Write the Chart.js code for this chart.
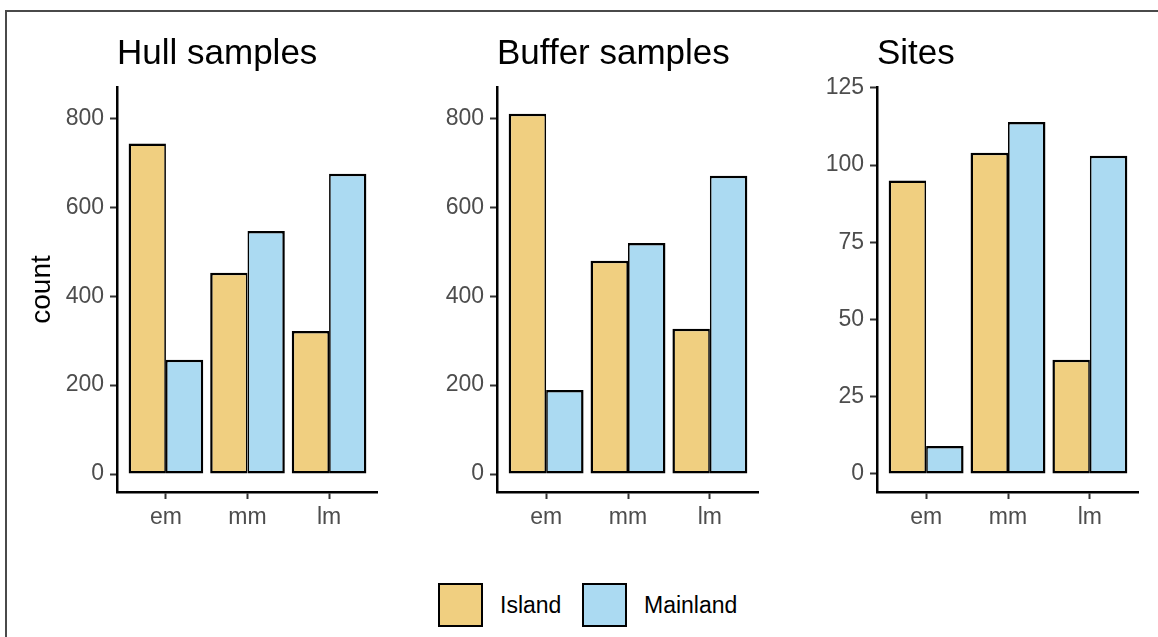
<!DOCTYPE html>
<html>
<head>
<meta charset="utf-8">
<script src="https://cdn.jsdelivr.net/npm/chart.js@4"></script>
<style>
body{margin:0;background:#fff;width:1158px;height:637px;overflow:hidden;position:relative;font-family:'Liberation Sans',Arial,sans-serif}
canvas{position:absolute;top:0}
#frame{position:absolute;left:5px;top:10px;width:1200px;height:700px;border-top:2px solid #4a4a4a;border-left:2px solid #4a4a4a}
#legend{position:absolute;top:583px;left:438px;height:44px}
.item{position:absolute;top:0;height:44px}
.box{position:absolute;top:0;left:0;width:41px;height:40px;border:2px solid #000}
.lab{position:absolute;top:0;line-height:44px;font-size:23px;color:#000;white-space:nowrap}
</style>
</head>
<body>
<div id="frame"></div>
<canvas id="hull" width="378" height="552" style="left:0"></canvas>
<canvas id="buffer" width="379" height="552" style="left:380px"></canvas>
<canvas id="sites" width="379" height="552" style="left:760px"></canvas>
<div id="legend"></div>
<script>
const categories=['em','mm','lm']
const seriesNames=['Island','Mainland']
const seriesColors=['#f0cf80','#abdaf2']
const hullIsland=[744,453,322]
const hullMainland=[257,547,676]
const bufferIsland=[811,480,327]
const bufferMainland=[189,520,671]
const sitesIsland=[95,104,37]
const sitesMainland=[9,114,103]
const countTicks=[0,200,400,600,800]
const sitesTicks=[0,25,50,75,100,125]

const font='Liberation Sans'

function toPoints(arr){
    return arr.map((v,i)=>({x:i+1,y:v}))
}

function makePanel(id,title,island,mainland,yMin,yMax,yTicks,showCount){
    const data={
        datasets:[{
            label:seriesNames[0],
            data:toPoints(island),
            backgroundColor:seriesColors[0],
            borderColor:'#000',
            // shared edge between the two bars split in half
            borderWidth:()=>({top:2.5,bottom:2.5,left:2.5,right:1.7}),
            borderSkipped:false,
            categoryPercentage:0.915,
            barPercentage:1
        },{
            label:seriesNames[1],
            data:toPoints(mainland),
            backgroundColor:seriesColors[1],
            borderColor:'#000',
            borderWidth:()=>({top:2.5,bottom:2.5,left:1.7,right:2.5}),
            borderSkipped:false,
            categoryPercentage:0.915,
            barPercentage:1
        }]
    }
    const config={
        type:'bar',
        data:data,
        options:{
            responsive:false,
            animation:false,
            layout:{padding:0},
            plugins:{
                legend:{display:false},
                tooltip:{enabled:false},
                title:{
                    display:true,
                    text:title,
                    align:'start',
                    fullSize:false,
                    color:'#000',
                    font:{family:font,size:35,weight:'normal'},
                    padding:{top:33,bottom:12}
                }
            },
            scales:{
                x:{
                    type:'linear',
                    min:0.4,
                    max:3.6,
                    offset:false,
                    grid:{drawOnChartArea:false,drawTicks:true,tickLength:7,tickWidth:2,tickColor:'#333',offset:false},
                    border:{display:true,color:'#000',width:2.5},
                    ticks:{
                        font:{family:font,size:23},
                        color:'#4d4d4d',
                        padding:5,
                        callback:(v)=>categories[v-1]
                    },
                    afterBuildTicks:(s)=>{s.ticks=categories.map((c,i)=>({value:i+1}))},
                    afterFit:(s)=>{s.height=60}
                },
                y:{
                    min:yMin,
                    max:yMax,
                    grid:{drawOnChartArea:false,drawTicks:true,tickLength:7,tickWidth:2,tickColor:'#333'},
                    border:{display:true,color:'#000',width:2.5},
                    ticks:{font:{family:font,size:23},color:'#4d4d4d',padding:6},
                    afterBuildTicks:(s)=>{s.ticks=yTicks.map(v=>({value:v}))},
                    afterFit:(s)=>{s.width=117},
                    title:{
                        display:showCount,
                        text:'count',
                        color:'#000',
                        font:{family:font,size:28},
                        padding:{top:25,bottom:0}
                    }
                }
            }
        }
    }
    return new Chart(document.getElementById(id).getContext('2d'),config)
}

makePanel('hull','Hull samples',hullIsland,hullMainland,-40.5,871,countTicks,true)
makePanel('buffer','Buffer samples',bufferIsland,bufferMainland,-40.5,871,countTicks,false)
makePanel('sites','Sites',sitesIsland,sitesMainland,-5.86,125.3,sitesTicks,false)

// legend
const legend=document.getElementById('legend')
const legendX=[0,144]
for (let i=0;i<seriesNames.length;i++){
    legend.innerHTML+=`
    <div class="item" style="left:${legendX[i]}px">
        <div class="box" style="background:${seriesColors[i]}"></div>
        <div class="lab" style="left:62px">${seriesNames[i]}</div>
    </div>`
}
</script>
</body>
</html>
